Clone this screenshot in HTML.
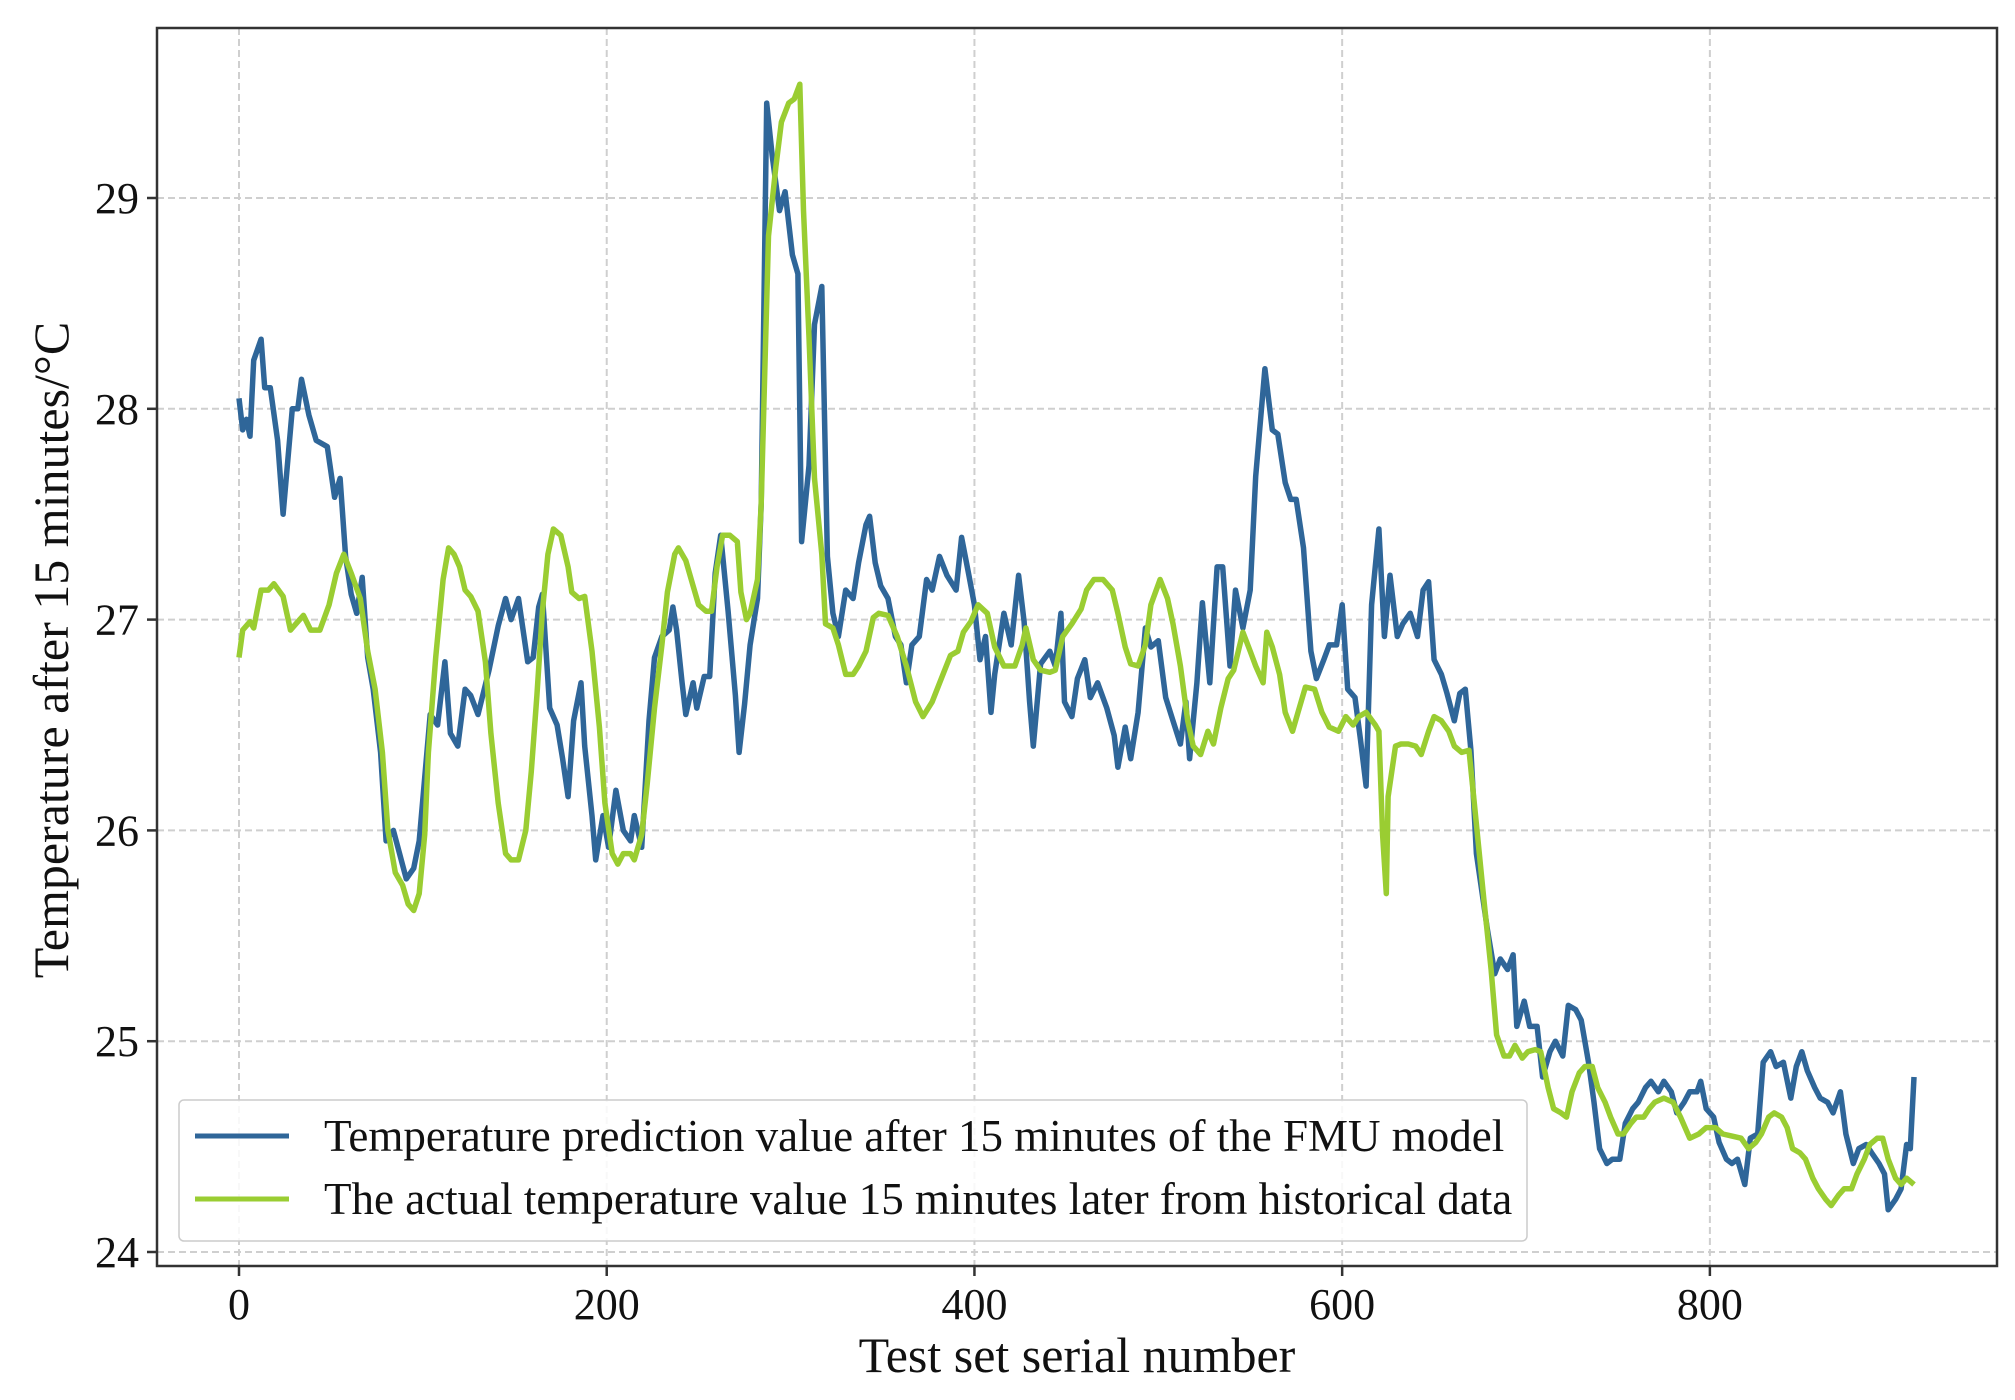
<!DOCTYPE html>
<html><head><meta charset="utf-8"><style>
html,body{margin:0;padding:0;background:#fff;}
svg{display:block;font-family:"Liberation Serif",serif;}
</style></head><body>
<svg id="chart" width="2015" height="1400" viewBox="0 0 2015 1400" xmlns="http://www.w3.org/2000/svg">
<g id="grid"></g>
<g id="series"></g>
<rect x="157" y="28" width="1840" height="1238" fill="none" stroke="#333" stroke-width="2.5"/>
<g id="axes"></g>
<text x="1077" y="1372" font-size="50" text-anchor="middle" fill="#111">Test set serial number</text>
<text transform="translate(68,650) rotate(-90)" font-size="50" text-anchor="middle" fill="#111">Temperature after 15 minutes/°C</text>
<g>
<rect x="179" y="1100" width="1348" height="141" rx="5" fill="#fff" fill-opacity="0.85" stroke="#ccc" stroke-width="1.5"/>
<line x1="195" y1="1136" x2="289" y2="1136" stroke="#2f6699" stroke-width="5"/>
<text x="324" y="1151" font-size="45" fill="#111">Temperature prediction value after 15 minutes of the FMU model</text>
<line x1="195" y1="1199" x2="289" y2="1199" stroke="#9acd32" stroke-width="5"/>
<text x="324" y="1214" font-size="45" fill="#111">The actual temperature value 15 minutes later from historical data</text>
</g>
</svg>
<script>
const xTicks=[0,200,400,600,800];
const yTicks=[24,25,26,27,28,29];
const predIdx=[0,2,4,6,8,12,14,17,21,24,29,32,34,38,42,48,52,55,58,61,64,67,70,73,77,80,84,87,91,95,98,101,104,108,112,115,119,123,126,130,136,141,145,148,152,157,160,163,165,169,173,176,179,182,186,188,192,194,198,201,205,209,213,215,219,223,226,230,234,236,238,241,243,247,249,253,256,259,262,266,270,272,275,278,282,284,287,290,294,297,301,304,306,310,313,317,320,323,326,330,334,337,341,343,346,349,353,357,360,363,366,370,374,377,381,385,390,393,397,400,403,406,409,411,416,420,424,427,430,432,436,441,444,447,449,453,456,460,463,467,472,476,478,482,485,489,493,496,500,504,508,512,515,517,521,524,528,532,535,539,542,546,550,553,558,562,565,569,572,575,579,583,586,590,593,597,600,603,607,610,613,616,620,623,626,630,633,637,641,644,647,650,654,657,661,664,667,670,673,679,683,686,690,693,695,699,702,706,709,713,716,720,723,727,730,734,737,740,744,747,751,754,758,761,765,768,772,775,779,782,786,789,793,795,798,802,805,809,812,815,819,822,826,829,833,836,840,844,847,850,853,857,860,864,867,871,874,878,881,885,888,892,895,897,901,904,907,909,911];
const predVal=[28.05,27.9,27.95,27.87,28.23,28.33,28.1,28.1,27.85,27.5,28.0,28.0,28.14,27.97,27.85,27.82,27.58,27.67,27.3,27.12,27.03,27.2,26.82,26.67,26.37,25.95,26.0,25.9,25.77,25.82,25.95,26.25,26.55,26.5,26.8,26.46,26.4,26.67,26.64,26.55,26.76,26.97,27.1,27.0,27.1,26.8,26.82,27.06,27.12,26.58,26.5,26.34,26.16,26.52,26.7,26.4,26.07,25.86,26.07,25.92,26.19,26.0,25.95,26.07,25.92,26.52,26.82,26.92,26.95,27.06,26.95,26.7,26.55,26.7,26.58,26.73,26.73,27.22,27.4,27.04,26.64,26.37,26.6,26.88,27.1,27.55,29.45,29.2,28.94,29.03,28.73,28.64,27.37,27.73,28.4,28.58,27.3,27.03,26.92,27.14,27.1,27.27,27.45,27.49,27.27,27.16,27.1,26.92,26.88,26.7,26.88,26.92,27.19,27.14,27.3,27.21,27.14,27.39,27.21,27.07,26.81,26.92,26.56,26.74,27.03,26.88,27.21,26.99,26.61,26.4,26.79,26.85,26.78,27.03,26.61,26.54,26.72,26.81,26.63,26.7,26.58,26.45,26.3,26.49,26.34,26.56,26.96,26.87,26.9,26.63,26.52,26.41,26.61,26.34,26.7,27.08,26.7,27.25,27.25,26.78,27.14,26.96,27.14,27.68,28.19,27.9,27.88,27.65,27.57,27.57,27.34,26.85,26.72,26.81,26.88,26.88,27.07,26.67,26.63,26.43,26.21,27.07,27.43,26.92,27.21,26.92,26.98,27.03,26.92,27.14,27.18,26.81,26.74,26.65,26.52,26.65,26.67,26.38,25.89,25.53,25.32,25.39,25.34,25.41,25.07,25.19,25.07,25.07,24.83,24.95,25.0,24.93,25.17,25.15,25.1,24.9,24.71,24.49,24.42,24.44,24.44,24.61,24.68,24.71,24.78,24.81,24.76,24.81,24.76,24.66,24.71,24.76,24.76,24.81,24.68,24.64,24.52,24.44,24.42,24.44,24.32,24.54,24.56,24.9,24.95,24.88,24.9,24.73,24.88,24.95,24.86,24.78,24.73,24.71,24.66,24.76,24.56,24.42,24.49,24.51,24.47,24.42,24.37,24.2,24.25,24.3,24.51,24.49,24.83];
const actIdx=[0,2,6,8,12,16,19,24,28,32,35,39,44,49,53,57,61,66,70,74,78,81,85,89,92,95,98,101,103,107,111,114,117,120,123,126,130,134,137,141,145,148,152,156,159,162,165,168,171,175,179,181,185,188,192,196,199,203,206,209,213,215,219,222,226,230,233,237,239,243,247,250,254,257,260,263,267,271,273,276,278,282,284,286,288,292,295,299,302,305,307,310,313,317,319,323,326,330,334,337,341,345,348,353,358,363,368,372,377,382,387,391,394,398,402,407,411,416,422,426,428,432,436,441,444,448,453,458,461,465,470,475,478,482,485,489,493,496,501,505,508,512,516,519,523,527,530,534,538,541,546,550,553,557,559,562,566,569,573,576,580,585,589,593,598,602,606,609,613,618,620,622,624,625,629,632,636,640,643,647,650,654,658,661,665,669,672,677,681,684,688,691,694,698,701,705,708,712,715,719,722,725,729,732,736,739,743,746,750,753,757,760,764,767,770,775,780,784,789,794,798,803,807,812,817,821,825,828,832,835,839,842,845,849,852,856,859,863,866,870,873,877,880,884,887,891,894,897,901,904,907,911];
const actVal=[26.82,26.95,26.99,26.96,27.14,27.14,27.17,27.11,26.95,26.99,27.02,26.95,26.95,27.07,27.22,27.31,27.22,27.1,26.85,26.67,26.37,26.0,25.8,25.74,25.65,25.62,25.7,25.98,26.37,26.82,27.19,27.34,27.31,27.25,27.14,27.11,27.04,26.8,26.46,26.13,25.89,25.86,25.86,26.0,26.28,26.64,27.04,27.31,27.43,27.4,27.25,27.13,27.1,27.11,26.85,26.49,26.13,25.89,25.84,25.89,25.89,25.86,25.98,26.22,26.58,26.88,27.13,27.31,27.34,27.28,27.16,27.07,27.04,27.04,27.25,27.4,27.4,27.37,27.13,27.0,27.03,27.19,27.55,28.18,28.82,29.15,29.36,29.45,29.47,29.54,28.94,28.34,27.67,27.31,26.98,26.96,26.88,26.74,26.74,26.78,26.85,27.01,27.03,27.02,26.92,26.78,26.61,26.54,26.61,26.72,26.83,26.85,26.94,26.99,27.07,27.03,26.87,26.78,26.78,26.88,26.96,26.81,26.76,26.75,26.76,26.92,26.98,27.05,27.14,27.19,27.19,27.14,27.03,26.87,26.79,26.78,26.88,27.07,27.19,27.1,26.98,26.78,26.52,26.4,26.36,26.47,26.41,26.58,26.72,26.76,26.94,26.85,26.78,26.7,26.94,26.87,26.74,26.56,26.47,26.56,26.68,26.67,26.56,26.49,26.47,26.54,26.5,26.54,26.56,26.5,26.47,25.98,25.7,26.16,26.4,26.41,26.41,26.4,26.36,26.47,26.54,26.52,26.47,26.4,26.37,26.38,26.12,25.68,25.34,25.03,24.93,24.93,24.98,24.92,24.95,24.96,24.95,24.78,24.68,24.66,24.64,24.76,24.85,24.88,24.88,24.78,24.71,24.64,24.56,24.56,24.61,24.64,24.64,24.68,24.71,24.73,24.71,24.64,24.54,24.56,24.59,24.59,24.56,24.55,24.54,24.49,24.52,24.56,24.64,24.66,24.64,24.59,24.49,24.47,24.44,24.35,24.3,24.25,24.22,24.27,24.3,24.3,24.37,24.44,24.51,24.54,24.54,24.44,24.35,24.32,24.35,24.32];

const NS='http://www.w3.org/2000/svg';
const X=v=>239+v*1.8386;
const Y=v=>198+(29-v)*210.8;
const grid=document.getElementById('grid'),axes=document.getElementById('axes'),series=document.getElementById('series');
function mk(tag,parent,attrs){const e=document.createElementNS(NS,tag);for(const k in attrs)e.setAttribute(k,attrs[k]);parent.appendChild(e);return e;}
xTicks.forEach(t=>{
  const g=mk('line',grid,{x1:X(t),x2:X(t),y1:28,y2:1266,stroke:'#cfcfcf','stroke-width':2,'stroke-dasharray':'7,4'});
  
  
  const tk=mk('line',axes,{x1:X(t),x2:X(t),y1:1266,y2:1276,stroke:'#333','stroke-width':2.5});
  
  
  const tx=mk('text',axes,{x:X(t),y:1319,'font-size':44,'text-anchor':'middle',fill:'#111'});
  tx.textContent=t;
  
  
});
yTicks.forEach(t=>{
  const g=mk('line',grid,{x1:157,x2:1997,y1:Y(t),y2:Y(t),stroke:'#cfcfcf','stroke-width':2,'stroke-dasharray':'7,4'});
  
  
  const tk=mk('line',axes,{x1:147,x2:157,y1:Y(t),y2:Y(t),stroke:'#333','stroke-width':2.5});
  
  
  const tx=mk('text',axes,{x:139,y:Y(t)+15,'font-size':44,'text-anchor':'end',fill:'#111'});
  tx.textContent=t;
  
  
});
function line(idx,val,color,name){
  const d=idx.map((x,i)=>(i?'L':'M')+X(x).toFixed(1)+','+Y(val[i]).toFixed(1)).join('');
  const p=mk('path',series,{d:d,fill:'none',stroke:color,'stroke-width':5.5,'stroke-linejoin':'round'});
  
  
}
line(predIdx,predVal,'#2f6699','prediction-line');
line(actIdx,actVal,'#9acd32','actual-line');
</script>
</body></html>
